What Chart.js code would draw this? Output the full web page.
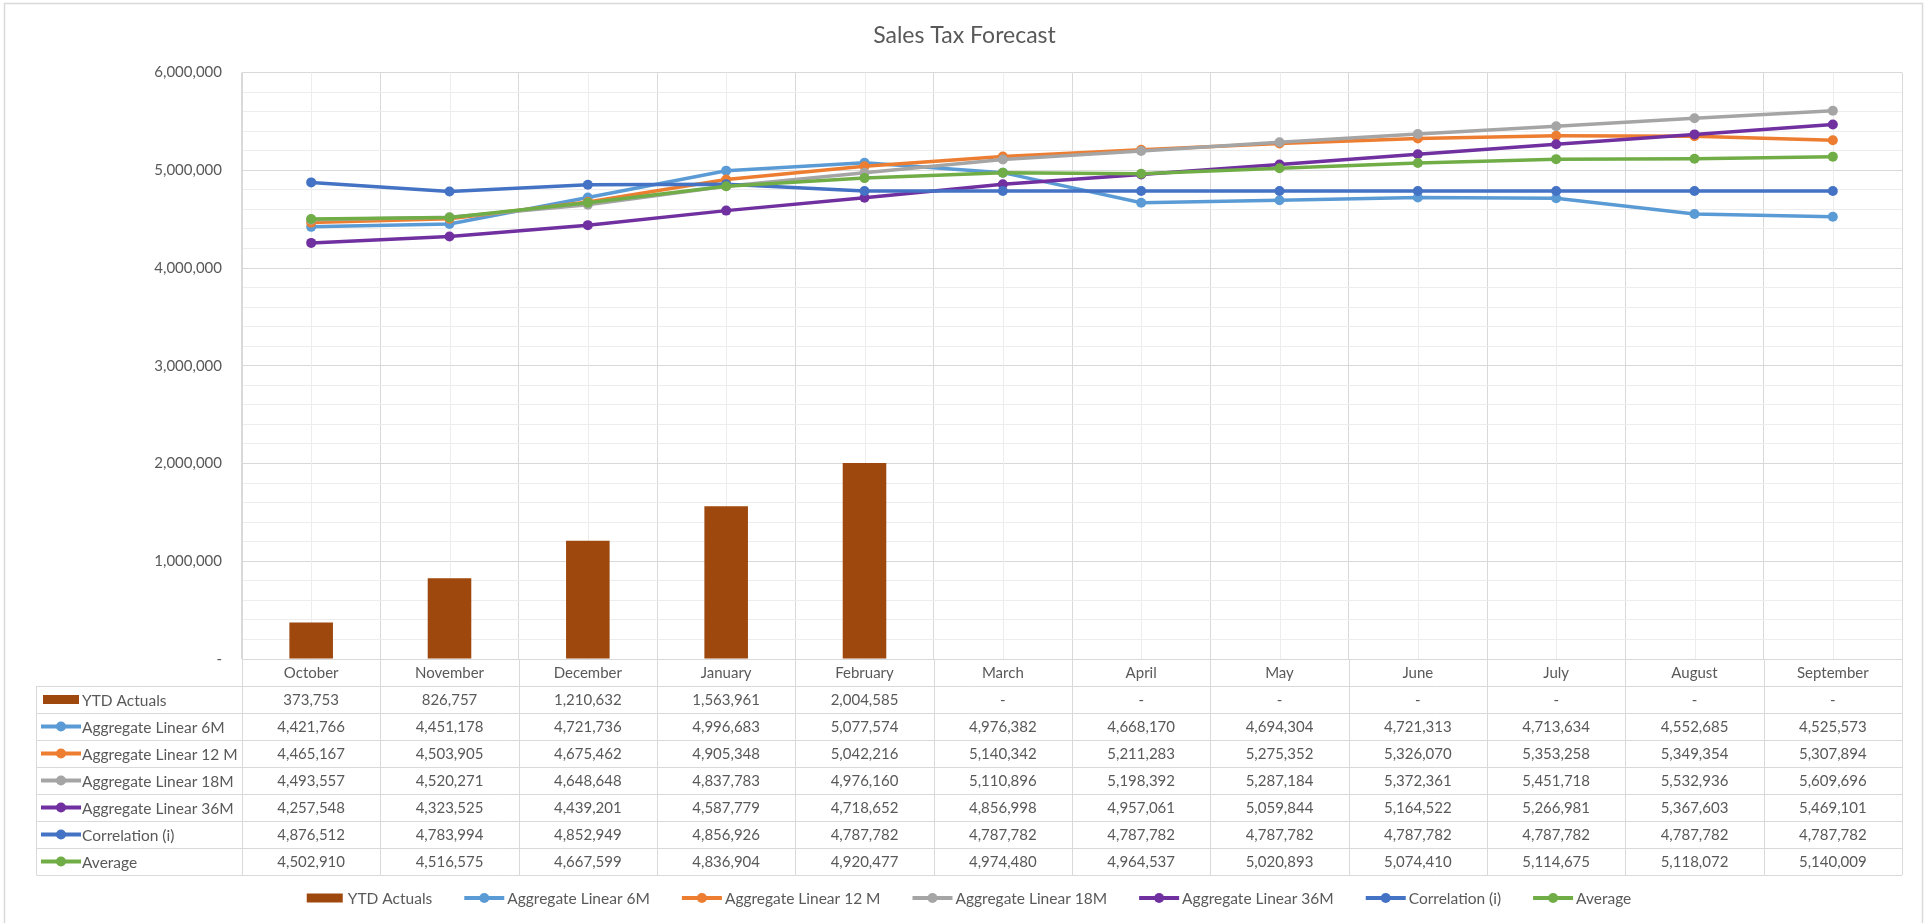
<!DOCTYPE html>
<html>
<head>
<meta charset="utf-8">
<title>Sales Tax Forecast</title>
<script src="https://cdn.jsdelivr.net/npm/chart.js@4.4.1/dist/chart.umd.min.js"></script>
<style>
  html, body { margin: 0; padding: 0; background: #fff; }
  #wrap { position: relative; width: 1929px; height: 923px; }
</style>
</head>
<body>
<div id="wrap"><canvas id="chart" width="1929" height="923"></canvas></div>
<script>
// categories
const months = ['October', 'November', 'December', 'January', 'February', 'March',
                'April', 'May', 'June', 'July', 'August', 'September'];

// series values (null = no actuals yet, shown as "-")
const ytdActuals = [373753, 826757, 1210632, 1563961, 2004585, null, null, null, null, null, null, null];
const linear6M = [4421766, 4451178, 4721736, 4996683, 5077574, 4976382, 4668170, 4694304, 4721313, 4713634, 4552685, 4525573];
const linear12M = [4465167, 4503905, 4675462, 4905348, 5042216, 5140342, 5211283, 5275352, 5326070, 5353258, 5349354, 5307894];
const linear18M = [4493557, 4520271, 4648648, 4837783, 4976160, 5110896, 5198392, 5287184, 5372361, 5451718, 5532936, 5609696];
const linear36M = [4257548, 4323525, 4439201, 4587779, 4718652, 4856998, 4957061, 5059844, 5164522, 5266981, 5367603, 5469101];
const correlation = [4876512, 4783994, 4852949, 4856926, 4787782, 4787782, 4787782, 4787782, 4787782, 4787782, 4787782, 4787782];
const average = [4502910, 4516575, 4667599, 4836904, 4920477, 4974480, 4964537, 5020893, 5074410, 5114675, 5118072, 5140009];

// axis
const yMin = 0;
const yMax = 6000000;
const yMajor = 1000000;
const yMinor = 200000;

const FONT = 'Lato, "Open Sans", sans-serif';
const TEXT = '#595959';
const GRID = '#d9d9d9';
const GRID_MINOR = '#ededed';

function fmt(v) {
    if (v === null || v === 0) return '-';
    return v.toLocaleString('en-US');
}

function lineSet(label, data, color, order) {
    return {
        type: 'line',
        label: label,
        data: data,
        borderColor: color,
        backgroundColor: color,
        borderWidth: 3.5,
        pointRadius: 5,
        pointBackgroundColor: color,
        pointBorderColor: color,
        pointBorderWidth: 0,
        tension: 0,
        order: order
    };
}

const datasets = [
    {
        type: 'bar',
        label: 'YTD Actuals',
        data: ytdActuals,
        backgroundColor: '#9e480e',
        barPercentage: 0.315,
        categoryPercentage: 1,
        order: 10
    },
    lineSet('Aggregate Linear 6M', linear6M, '#5b9bd5', 6),
    lineSet('Aggregate Linear 12 M', linear12M, '#ed7d31', 5),
    lineSet('Aggregate Linear 18M', linear18M, '#a5a5a5', 4),
    lineSet('Aggregate Linear 36M', linear36M, '#7030a0', 3),
    lineSet('Correlation (i)', correlation, '#4472c4', 2),
    lineSet('Average', average, '#70ad47', 1)
];

// draws a legend key (bar swatch or line with marker) at x, centred on y
function drawKey(ctx, ds, x, y) {
    ctx.save();
    if (ds.type === 'bar') {
        ctx.fillStyle = ds.backgroundColor;
        ctx.fillRect(x + 2, y - 4.5, 36, 9);
    } else {
        ctx.strokeStyle = ds.borderColor;
        ctx.lineWidth = 4;
        ctx.beginPath();
        ctx.moveTo(x, y);
        ctx.lineTo(x + 40, y);
        ctx.stroke();
        ctx.fillStyle = ds.borderColor;
        ctx.beginPath();
        ctx.arc(x + 20, y, 5, 0, Math.PI * 2);
        ctx.fill();
    }
    ctx.restore();
}

// minor vertical gridlines at the category centres
const minorGrid = {
    id: 'minorGrid',
    beforeDatasetsDraw(chart) {
        const { ctx, chartArea: a, scales: { x } } = chart;
        ctx.save();
        ctx.strokeStyle = GRID_MINOR;
        ctx.lineWidth = 1;
        months.forEach((m, i) => {
            const px = Math.round(x.getPixelForValue(i)) + 0.5;
            ctx.beginPath();
            ctx.moveTo(px, a.top);
            ctx.lineTo(px, a.bottom);
            ctx.stroke();
        });
        ctx.restore();
    }
};

// data table under the plot, plus the legend and the outer frame
const dataTable = {
    id: 'dataTable',
    afterDraw(chart) {
        const { ctx, chartArea: a, scales: { x } } = chart;
        const rowH = 27;
        const tableLeft = 36.5;
        const top = a.bottom;
        const rows = chart.data.datasets;
        const bottom = top + rowH * (rows.length + 1);
        const half = (x.getPixelForValue(1) - x.getPixelForValue(0)) / 2;

        ctx.save();
        ctx.strokeStyle = GRID;
        ctx.lineWidth = 1;

        // horizontal rules
        for (let k = 1; k <= rows.length + 1; k++) {
            const y = Math.round(top + rowH * k) + 0.5;
            ctx.beginPath();
            ctx.moveTo(tableLeft, y);
            ctx.lineTo(a.right, y);
            ctx.stroke();
        }
        // vertical rules at category boundaries
        for (let i = 0; i <= months.length; i++) {
            const px = Math.round(x.getPixelForValue(i) - half) + 0.5;
            ctx.beginPath();
            ctx.moveTo(px, top);
            ctx.lineTo(px, bottom);
            ctx.stroke();
        }
        ctx.beginPath();
        ctx.moveTo(tableLeft, top + rowH);
        ctx.lineTo(tableLeft, bottom);
        ctx.stroke();

        // category labels and values
        ctx.fillStyle = TEXT;
        ctx.font = '15px ' + FONT;
        ctx.textAlign = 'center';
        ctx.textBaseline = 'middle';
        chart.data.labels.forEach((m, i) => {
            ctx.fillText(m, x.getPixelForValue(i), top + rowH / 2 + 1);
        });
        rows.forEach((ds, r) => {
            const cy = top + rowH * (r + 1) + rowH / 2 + 1;
            ds.data.forEach((v, i) => {
                ctx.fillText(fmt(v), x.getPixelForValue(i), cy);
            });
        });

        // row headers
        ctx.textAlign = 'left';
        ctx.font = '15.5px ' + FONT;
        rows.forEach((ds, r) => {
            const cy = top + rowH * (r + 1) + rowH / 2;
            drawKey(ctx, ds, 41, cy);
            ctx.fillStyle = TEXT;
            ctx.fillText(ds.label, 82, cy + 1);
        });

        // legend
        const keyW = 40, keyGap = 3, itemGap = 32;
        const widths = rows.map(ds => ctx.measureText(ds.label).width);
        const total = widths.reduce((s, w) => s + keyW + keyGap + w, 0) + itemGap * (rows.length - 1);
        let lx = 968 - total / 2;
        const ly = 898;
        rows.forEach((ds, r) => {
            drawKey(ctx, ds, lx, ly);
            ctx.fillStyle = TEXT;
            ctx.fillText(ds.label, lx + keyW + keyGap, ly + 1);
            lx += keyW + keyGap + widths[r] + itemGap;
        });

        // chart frame
        ctx.strokeStyle = GRID;
        ctx.lineWidth = 1.5;
        ctx.strokeRect(4.5, 3.5, 1918, 930);
        ctx.restore();
    }
};

new Chart(document.getElementById('chart'), {
    type: 'bar',
    data: { labels: months, datasets: datasets },
    options: {
        responsive: false,
        devicePixelRatio: 1,
        animation: false,
        layout: { padding: { left: 27, right: 27, top: 0, bottom: 264 } },
        plugins: {
            legend: { display: false },
            tooltip: { enabled: false },
            title: {
                display: true,
                text: 'Sales Tax Forecast',
                color: TEXT,
                font: { family: FONT, size: 23, weight: 'normal' },
                padding: { top: 22, bottom: 23 }
            }
        },
        scales: {
            x: {
                offset: true,
                grid: { offset: true, color: GRID, drawTicks: false },
                border: { color: GRID },
                ticks: { display: false },
                afterFit: s => { s.height = 0; }
            },
            y: {
                min: yMin,
                max: yMax,
                grid: {
                    drawTicks: false,
                    color: c => (c.tick.value % yMajor === 0 ? GRID : GRID_MINOR)
                },
                border: { color: GRID },
                ticks: {
                    stepSize: yMinor,
                    autoSkip: false,
                    padding: 20,
                    color: TEXT,
                    font: { family: FONT, size: 15 },
                    callback: v => (v % yMajor === 0 ? fmt(v) : '')
                },
                afterFit: s => { s.width = 215; }
            }
        }
    },
    plugins: [minorGrid, dataTable]
});
</script>
</body>
</html>
